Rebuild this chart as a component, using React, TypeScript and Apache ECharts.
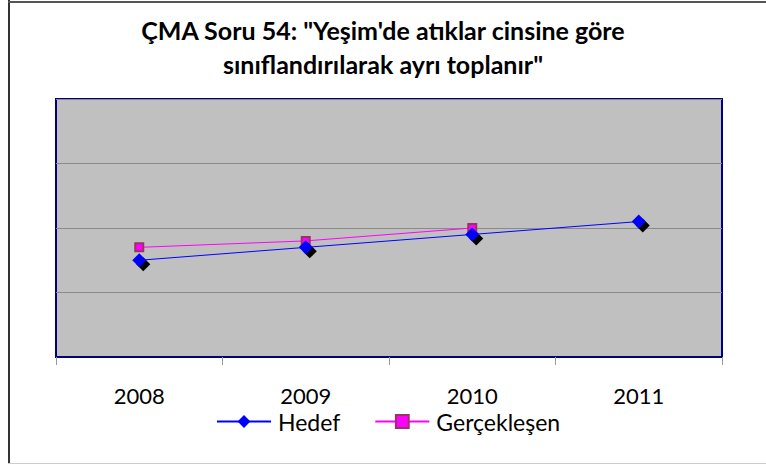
import React, { useEffect, useRef } from "react";
import * as echarts from "echarts";

const categories = ["2008", "2009", "2010", "2011"];
const hedef = [1.5, 1.7, 1.9, 2.1];
const gerceklesen = [1.7, 1.8, 2.0, null];
const titleText = "ÇMA Soru 54: \"Yeşim'de atıklar cinsine göre\nsınıflandırılarak ayrı toplanır\"";

export default function App() {
  const ref = useRef<HTMLDivElement>(null);
  useEffect(() => {
    const chart = echarts.init(ref.current!, null, { renderer: "svg" });
    const font = "Lato, 'Open Sans', sans-serif";
    chart.setOption({
      animation: false,
      backgroundColor: "#ffffff",
      title: {
        text: titleText,
        left: "center",
        top: 13,
        padding: 0,
        textStyle: {
          fontFamily: font,
          fontWeight: "bold",
          fontSize: 25,
          lineHeight: 34,
          color: "#000",
        },
      },
      graphic: [
        { type: "line", shape: { x1: 9, y1: 0, x2: 9, y2: 464 }, style: { stroke: "#333", lineWidth: 2 } },
        { type: "line", shape: { x1: 8, y1: 2, x2: 766, y2: 2 }, style: { stroke: "#555", lineWidth: 2 } },
        { type: "line", shape: { x1: 8, y1: 463.5, x2: 766, y2: 463.5 }, style: { stroke: "#ccc", lineWidth: 1 } },
      ],
      legend: {
        left: 211,
        top: 405,
        itemWidth: 54,
        itemHeight: 16,
        itemGap: 34,
        data: ["Hedef", "Gerçekleşen"],
        textStyle: { fontFamily: font, fontSize: 23, lineHeight: 18, color: "#000", padding: [0, 0, 0, 2] },
      },
      grid: {
        left: 56,
        right: 44,
        top: 99,
        bottom: 107,
        show: true,
        backgroundColor: "#C0C0C0",
        borderColor: "#000080",
        borderWidth: 2,
      },
      xAxis: {
        type: "category",
        data: categories,
        boundaryGap: true,
        axisLine: { show: true, lineStyle: { color: "#000080", width: 2 } },
        axisTick: { show: true, length: 8, lineStyle: { color: "#999", width: 1 } },
        axisLabel: { fontFamily: font, fontSize: 22, lineHeight: 18, color: "#000", margin: 29 },
      },
      yAxis: {
        type: "value",
        min: 0,
        max: 4,
        interval: 1,
        axisLabel: { show: false },
        axisTick: { show: false },
        axisLine: { show: false },
        splitLine: { show: true, lineStyle: { color: "#8a8a8a", width: 1 } },
      },
      series: [
        {
          name: "HedefShadow",
          type: "line",
          data: hedef,
          symbol: "diamond",
          symbolSize: 14,
          symbolOffset: [4, 4],
          lineStyle: { width: 0, opacity: 0 },
          itemStyle: { color: "#000" },
          z: 1,
          silent: true,
        },
        {
          name: "Gerçekleşen",
          type: "line",
          data: gerceklesen,
          symbol: "rect",
          symbolSize: 8,
          lineStyle: { color: "#FF00FF", width: 1 },
          itemStyle: { color: "#FF00FF", borderColor: "#993366", borderWidth: 2 },
          z: 2,
        },
        {
          name: "Hedef",
          type: "line",
          data: hedef,
          symbol: "diamond",
          symbolSize: 14,
          lineStyle: { color: "#0000FF", width: 1 },
          itemStyle: { color: "#0000FF" },
          z: 3,
        },
      ],
    });
    return () => chart.dispose();
  }, []);
  return (
    <div
      ref={ref}
      style={{ position: "absolute", left: 0, top: 0, width: 766, height: 464 }}
    />
  );
}
